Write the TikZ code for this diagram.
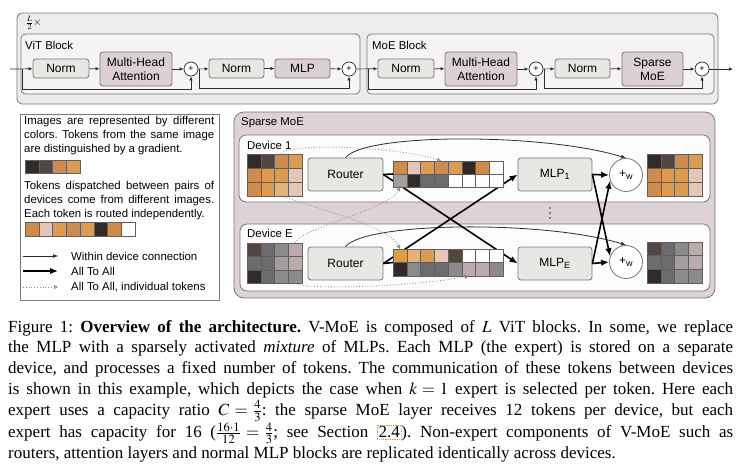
\documentclass[tikz,border=0pt]{standalone}
\usepackage{mathptmx}
\usepackage{fontspec}
\setmainfont{Liberation Serif}
\setsansfont{Liberation Sans}
\usetikzlibrary{positioning, arrows.meta}
\definecolor{lineDark}{RGB}{45,45,45}
\definecolor{boxGray}{RGB}{120,120,120}
\definecolor{outerFill}{RGB}{238,235,235}
\definecolor{blockFill}{RGB}{245,243,243}
\definecolor{normFill}{RGB}{233,231,228}
\definecolor{layerFill}{RGB}{219,208,210}
\definecolor{sparseFill}{RGB}{221,210,213}
\definecolor{deviceFill}{RGB}{252,252,252}
\definecolor{dotGray}{RGB}{135,135,135}
\definecolor{cellGray}{RGB}{95,95,95}
\definecolor{linkOrange}{RGB}{230,150,60}
% token colours
\definecolor{tokOrange}{RGB}{222,154,78}
\definecolor{tokOrangeDot}{RGB}{205,140,78}
\definecolor{tokOrangeLight}{RGB}{230,178,122}
\definecolor{tokPink}{RGB}{228,198,182}
\definecolor{tokBlack}{RGB}{48,42,40}
\definecolor{tokBrown}{RGB}{80,70,66}
\definecolor{tokGray}{RGB}{108,107,109}
\definecolor{tokGrayMid}{RGB}{140,138,138}
\definecolor{tokGrayLight}{RGB}{162,158,158}
\definecolor{tokGrayPink}{RGB}{186,172,172}
\newcommand{\diagramFont}{\sffamily\fontsize{12}{14}\selectfont}
\newcommand{\labelFont}{\sffamily\fontsize{11.4}{14}\selectfont\frenchspacing}
\newcommand{\captionFont}{\fontsize{17}{20.8}\selectfont\frenchspacing\hyphenpenalty=10000\spaceskip=.25em plus .25em minus .08em\relax}
\tikzstyle{pixelGrid} = [x = 1pt, y = -1pt]
\tikzstyle{outerBox} = [draw=boxGray, fill=outerFill, rounded corners = .2cm, line width=.8pt]
\tikzstyle{blockBox} = [draw=boxGray, fill=blockFill, rounded corners = .15cm, line width=.8pt]
\tikzstyle{sparseBox} = [draw=boxGray, fill=sparseFill, rounded corners = .35cm, line width=.8pt]
\tikzstyle{deviceBox} = [draw=boxGray, fill=deviceFill, rounded corners = .25cm, line width=.8pt]
\tikzstyle{legendBox} = [draw=boxGray, fill=white, line width=.8pt]
\tikzstyle{normBox} = [draw=boxGray, fill=normFill, rounded corners = .1cm, line width=.8pt, minimum width=56pt, minimum height=19pt, inner sep=0pt, font=\diagramFont]
\tikzstyle{layerBox} = [normBox, fill=layerFill, minimum width=72pt, minimum height=34pt, align=center]
\tikzstyle{sumCircle} = [circle, draw=lineDark, fill=white, line width=.7pt, minimum size=14pt, inner sep=0pt, font=\sffamily\fontsize{9}{9}\selectfont]
\tikzstyle{routerBox} = [normBox, minimum width=75pt, minimum height=33pt]
\tikzstyle{weightedSum} = [circle, draw=boxGray, fill=white, line width=.8pt, minimum size=33pt, inner sep=0pt, font=\diagramFont]
\tikzstyle{labelText} = [anchor=west, inner sep=0pt, font=\labelFont]
\tikzstyle{legendText} = [anchor=north west, text width=190pt, align=justify, inner sep=0pt, font=\labelFont]
\tikzstyle{captionText} = [anchor=north west, text width=725pt, align=justify, inner sep=0pt, font=\captionFont]
\tikzstyle{flowArrow} = [-{Latex[length=4pt, width=3.5pt]}, draw=lineDark, line width=.7pt]
\tikzstyle{withinArrow} = [-{Latex[length=5pt, width=4pt]}, draw=lineDark, line width=.8pt]
\tikzstyle{allToAllLine} = [draw=black, line width=1.6pt]
\tikzstyle{allToAllArrow} = [allToAllLine, -{Latex[length=8pt, width=6.5pt]}]
\tikzstyle{tokenArrow} = [-{Triangle[open, length=4pt, width=4pt]}, draw=dotGray, dotted, line width=.8pt]
\tikzstyle{tokenCell} = [draw=cellGray, line width=.5pt, anchor=north west, inner sep=0pt, outer sep=0pt]
\tikzstyle{linkFrame} = [draw=linkOrange, densely dotted, line width=.8pt, inner sep=1.2pt]
\newcommand{\cellW}{13.75}
% one row of tokens: name, x, y (top), height, colours
\newcommand{\tokenRow}[5]{
  \foreach \tokenColor [count=\i] in {#5} {
    \node [tokenCell, minimum width=\cellW, minimum height=#4, fill=\tokenColor] (#1-\i) at (#2 + \i * \cellW - \cellW, #3) {};
  }
}
\newcommand{\linkBox}[1]{\tikz[baseline=(linkText.base)] \node [linkFrame] (linkText) {#1};}

\begin{document}
\begin{tikzpicture}[pixelGrid]
  \useasboundingbox (0,0) rectangle (740,466);
  % repeated blocks
  \draw [outerBox] (17,13) rectangle (718,104);
  \node [anchor=west, inner sep=0pt, font=\fontsize{11}{11}\selectfont] (repeatLabel) at (26,23) {$\frac{L}{2}\times$};
  \draw [blockBox] (21,34) rectangle (360,94);
  \draw [blockBox] (367,34) rectangle (714,94);
  \node [labelText] (vitLabel) at (25,45) {ViT Block};
  \node [labelText] (moeLabel) at (372,45) {MoE Block};

  % ViT block
  \node [normBox] (vitNormA) at (61,68.5) {Norm};
  \node [layerBox] (vitAttention) at (136,69) {Multi-Head\\Attention};
  \node [sumCircle] (vitSumA) at (191,69) {+};
  \node [normBox, minimum width=55pt] (vitNormB) at (236.5,68.5) {Norm};
  \node [layerBox, minimum width=55pt, minimum height=19pt] (vitMlp) at (302.5,68.5) {MLP};
  \node [sumCircle] (vitSumB) at (349,69) {+};
  % MoE block
  \node [normBox] (moeNormA) at (406,68.5) {Norm};
  \node [layerBox] (moeAttention) at (481,69) {Multi-Head\\Attention};
  \node [sumCircle] (moeSumA) at (536,69) {+};
  \node [normBox, minimum width=55pt] (moeNormB) at (582.5,68.5) {Norm};
  \node [layerBox, minimum width=61pt] (moeSparse) at (652.5,69) {Sparse\\MoE};
  \node [sumCircle] (moeSumB) at (702,69) {+};

  \coordinate (vitIn) at (10,69);
  \coordinate (vitSkipA) at (22,69);
  \coordinate (vitSkipB) at (199.5,69);
  \coordinate (moeSkipA) at (368.5,69);
  \coordinate (moeSkipB) at (544,69);
  \coordinate (moeOut) at (733,69);

  \draw [flowArrow] (vitIn) -- (vitNormA);
  \draw [flowArrow] (vitNormA) -- (vitAttention);
  \draw [flowArrow] (vitAttention) -- (vitSumA);
  \draw [flowArrow] (vitSumA) -- (vitNormB);
  \draw [flowArrow] (vitNormB) -- (vitMlp);
  \draw [flowArrow] (vitMlp) -- (vitSumB);
  \draw [flowArrow] (vitSumB) -- (moeNormA);
  \draw [flowArrow] (moeNormA) -- (moeAttention);
  \draw [flowArrow] (moeAttention) -- (moeSumA);
  \draw [flowArrow] (moeSumA) -- (moeNormB);
  \draw [flowArrow] (moeNormB) -- (moeSparse);
  \draw [flowArrow] (moeSparse) -- (moeSumB);
  \draw [flowArrow] (moeSumB) -- (moeOut);
  \draw [flowArrow] (vitSkipA) -- ++(0,20) -| (vitSumA);
  \draw [flowArrow] (vitSkipB) -- ++(0,19.5) -| (vitSumB);
  \draw [flowArrow] (moeSkipA) -- ++(0,20) -| (moeSumA);
  \draw [flowArrow] (moeSkipB) -- ++(0,19.5) -| (moeSumB);

  % legend
  \draw [legendBox] (20,114) rectangle (219,300);
  \node [legendText] (legendImages) at (24,116) {Images are represented by different\linebreak colors. Tokens from the same image\linebreak are distinguished by a gradient.};
  \tokenRow{legendA}{25}{160}{13}{tokBlack,tokBrown,tokOrangeDot,tokOrange}
  \node [legendText] (legendTokens) at (24,181) {Tokens dispatched between pairs of\linebreak devices come from different images.\linebreak Each token is routed independently.};
  \tokenRow{legendB}{25}{222}{14}{tokOrangeDot,tokPink,tokOrange,tokOrangeDot,tokOrange,tokBlack,tokOrangeDot,white}
  \coordinate (legendWithinA) at (23,256);
  \coordinate (legendWithinB) at (58,256);
  \coordinate (legendAllA) at (23,271);
  \coordinate (legendAllB) at (58,271);
  \coordinate (legendTokA) at (23,287);
  \coordinate (legendTokB) at (58,287);
  \draw [withinArrow, line width=.6pt] (legendWithinA) -- (legendWithinB);
  \draw [allToAllArrow, line width=1.4pt] (legendAllA) -- (legendAllB);
  \draw [tokenArrow] (legendTokA) -- (legendTokB);
  \node [labelText] (legendWithin) at (71,256) {Within device connection};
  \node [labelText] (legendAll) at (71,271) {All To All};
  \node [labelText] (legendTok) at (71,287) {All To All, individual tokens};

  % sparse MoE layer
  \draw [sparseBox] (234,112) rectangle (715,298);
  \node [labelText] (sparseLabel) at (241,123) {Sparse MoE};
  \draw [deviceBox] (239,135) rectangle (710,202);
  \draw [deviceBox] (240,224) rectangle (710,291);
  \node [labelText] (deviceOneLabel) at (247,145) {Device 1};
  \node [labelText] (deviceELabel) at (247,233) {Device E};
  \foreach \dotY in {208,213,218}
    \fill [lineDark] (550,\dotY) circle (.9);

  \node [routerBox] (router1) at (345.5,174.5) {Router};
  \node [routerBox] (routerE) at (345.5,263.5) {Router};
  \node [routerBox, minimum width=74pt] (mlp1) at (555,174.5) {MLP\textsubscript{1}};
  \node [routerBox, minimum width=74pt] (mlpE) at (555,263.5) {MLP\textsubscript{E}};
  \node [weightedSum] (sum1) at (626,175) {+\textsubscript{w}};
  \node [weightedSum] (sumE) at (626,262) {+\textsubscript{w}};

  \draw [withinArrow] (router1.north) .. controls +(20,-25) and +(-80,-25) .. (sum1.north);
  \draw [withinArrow] (routerE.north) .. controls +(20,-25) and +(-80,-25) .. (sumE.north);
  \draw [allToAllArrow] (router1.east) -- (mlpE.west);
  \draw [allToAllArrow] (routerE.east) -- (mlp1.west);

  % tokens of device 1
  \tokenRow{in1a}{247}{154}{14}{tokBlack,tokBrown,tokOrangeDot,tokOrange}
  \tokenRow{in1b}{247}{168}{14}{tokOrangeDot,tokOrange,tokOrange,tokPink}
  \tokenRow{in1c}{247}{182}{14}{tokOrangeDot,tokOrange,tokOrangeLight,tokPink}
  \tokenRow{buf1a}{393}{161}{13}{tokOrangeDot,tokPink,tokOrange,tokOrangeDot,tokOrange,tokBlack,tokOrangeDot,white}
  \tokenRow{buf1b}{393}{174}{13}{tokGrayLight,tokBlack,tokGray,tokGray,white,white,white,white}
  \tokenRow{out1a}{647}{154}{14}{tokBlack,tokBrown,tokOrangeDot,tokOrange}
  \tokenRow{out1b}{647}{168}{14}{tokOrangeDot,tokOrange,tokOrange,tokPink}
  \tokenRow{out1c}{647}{182}{14}{tokOrangeDot,tokOrange,tokOrange,tokPink}
  % tokens of device E
  \tokenRow{inEa}{247}{243}{13.5}{tokBrown,tokGray,tokGrayMid,tokGrayPink}
  \tokenRow{inEb}{247}{256.5}{13.5}{tokGray,tokGray,tokGrayLight,tokGrayPink}
  \tokenRow{inEc}{247}{270}{13.5}{tokBlack,tokGray,tokGrayMid,tokGrayMid}
  \tokenRow{bufEa}{393}{249}{13.5}{tokOrange,tokOrangeLight,tokOrange,tokPink,tokBrown,white,white,white}
  \tokenRow{bufEb}{393}{262.5}{13.5}{tokBlack,tokGrayMid,tokGray,tokGray,tokGrayMid,tokGrayPink,tokGrayPink,tokGrayMid}
  \tokenRow{outEa}{647}{242}{13.7}{tokBrown,tokGray,tokGrayMid,tokGrayPink}
  \tokenRow{outEb}{647}{255.7}{13.7}{tokGray,tokGray,tokGrayLight,tokGrayPink}
  \tokenRow{outEc}{647}{269.4}{13.7}{tokBlack,tokGray,tokGrayMid,tokGrayMid}

  \draw [allToAllLine] (router1.east) -- (buf1b-1.north west);
  \draw [allToAllLine] (routerE.east) -- (bufEb-1.north west);
  \draw [allToAllArrow] (mlp1.east) -- (sum1.west);
  \draw [allToAllArrow] (mlp1.east) -- (sumE.160);
  \draw [allToAllArrow] (mlpE.east) -- (sumE.west);
  \draw [allToAllArrow] (mlpE.east) -- (sum1.200);

  % individual tokens
  \draw [tokenArrow] (in1a-3.north) .. controls +(5,-12) and +(-40,-14) .. (buf1a-4.north);
  \draw [tokenArrow] (in1c-3.south) .. controls +(40,14) and +(-10,-22) .. (bufEa-1.north);
  \draw [tokenArrow] (inEa-4.north) .. controls +(5,-15) and +(-10,22) .. (buf1b-1.south);
  \draw [tokenArrow] (inEc-4.south) .. controls +(15,7) and +(-50,10) .. (bufEb-6.south);

  % caption
  \node [captionText] (caption) at (8,320) {Figure 1: \textbf{Overview of the architecture.} V-MoE is composed of $L$ ViT blocks. In some, we replace\linebreak the MLP with a sparsely activated \emph{mixture} of MLPs. Each MLP (the expert) is stored on a separate\linebreak device, and processes a fixed number of tokens. The communication of these tokens between devices\linebreak is shown in this example, which depicts the case when $k = 1$ expert is selected per token. Here each\linebreak expert uses a capacity ratio $C = \frac{4}{3}$: the sparse MoE layer receives 12 tokens per device, but each\linebreak expert has capacity for 16 ($\frac{16\cdot 1}{12} = \frac{4}{3}$; see Section \linkBox{2.4}). Non-expert components of V-MoE such as\linebreak routers, attention layers and normal MLP blocks are replicated identically across devices.};
\end{tikzpicture}
\end{document}
